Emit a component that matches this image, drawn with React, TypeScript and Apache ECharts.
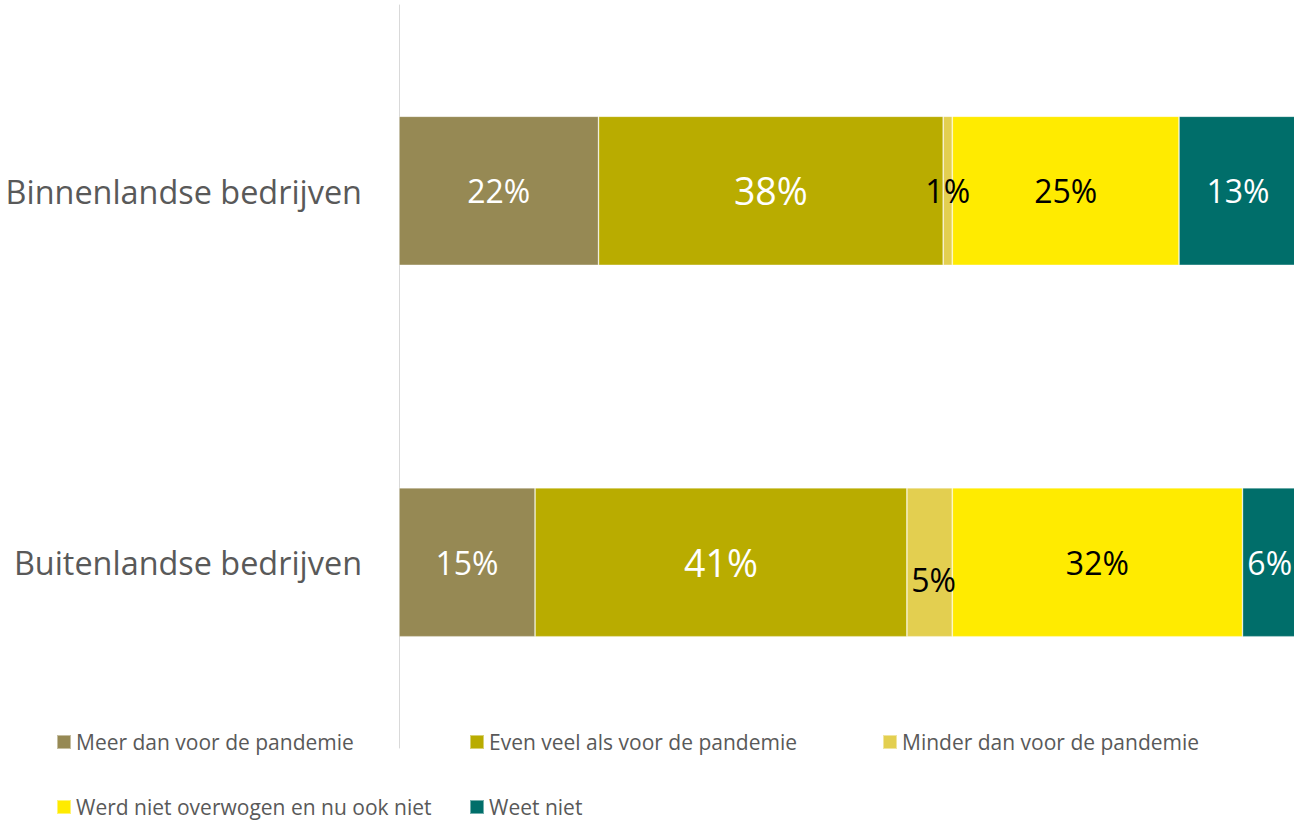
import React, { useEffect, useRef } from "react";
import * as echarts from "echarts";

const categories = ["Binnenlandse bedrijven", "Buitenlandse bedrijven"];
const seriesNames = [
  "Meer dan voor de pandemie",
  "Even veel als voor de pandemie",
  "Minder dan voor de pandemie",
  "Werd niet overwogen en nu ook niet",
  "Weet niet",
];
const meer = [22, 15];
const evenVeel = [38, 41];
const minder = [1, 5];
const werdNiet = [25, 32];
const weetNiet = [13, 6];
const seriesValues = [meer, evenVeel, minder, werdNiet, weetNiet];

const colors = ["#968954", "#B9AC00", "#E3CF50", "#FFEB00", "#006E6A"];
const labelColors = ["#FFFFFF", "#FFFFFF", "#000000", "#000000", "#FFFFFF"];
const labelSizes = [32, 37.5, 32, 32, 32];
const FONT = "'Open Sans', sans-serif";

export default function App() {
  const ref = useRef<HTMLDivElement>(null);
  useEffect(() => {
    if (!ref.current) return;
    const chart = echarts.init(ref.current, undefined, { renderer: "svg" });
    const legendLefts = [56, 469, 882, 56, 469];
    const legendTops = [728, 728, 728, 793, 793];
    const option: any = {
      animation: false,
      backgroundColor: "#FFFFFF",
      grid: { left: 399, top: 5, bottom: 74, right: 14, containLabel: false },
      xAxis: {
        type: "value",
        min: 0,
        max: 100,
        show: false,
      },
      yAxis: {
        type: "category",
        data: categories,
        inverse: true,
        axisLine: { show: true, lineStyle: { color: "#D9D9D9", width: 1 } },
        axisTick: { show: false },
        axisLabel: {
          color: "#595959",
          fontSize: 32.4,
          fontFamily: FONT,
          margin: 37,
        },
      },
      legend: seriesNames.map((name, i) => ({
        data: [name],
        left: legendLefts[i],
        top: legendTops[i],
        padding: 0,
        itemWidth: 14,
        itemHeight: 14,
        icon: "rect",
        selectedMode: false,
        textStyle: {
          color: "#595959",
          fontSize: 21,
          fontFamily: FONT,
          lineHeight: 28,
        },
      })),
      series: seriesNames.map((name, i) => ({
        name,
        type: "bar",
        stack: "total",
        barWidth: 149,
        itemStyle: {
          color: colors[i],
          borderColor: "rgba(255,255,255,0.45)",
          borderWidth: 0.75,
        },
        label: {
          show: true,
          position: "inside",
          formatter: "{c}%",
          color: labelColors[i],
          fontSize: labelSizes[i],
          fontFamily: FONT,
        },
        data: seriesValues[i].map((v, j) =>
          i === 2 && j === 1
            ? { value: v, label: { offset: [4, 17] } }
            : v
        ),
      })),
    };
    chart.setOption(option);
    return () => chart.dispose();
  }, []);
  return (
    <div
      style={{
        position: "absolute",
        left: 0,
        top: 0,
        width: 1294,
        height: 822,
        overflow: "hidden",
        background: "#fff",
      }}
    >
      <div ref={ref} style={{ width: 1320, height: 822 }} />
    </div>
  );
}
